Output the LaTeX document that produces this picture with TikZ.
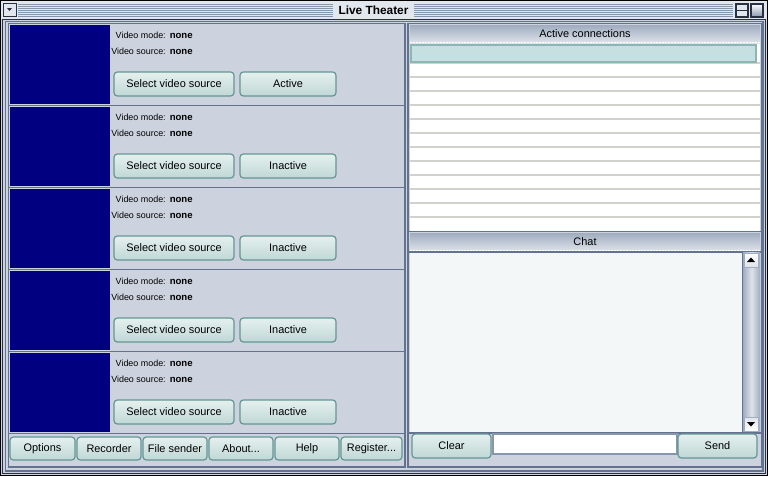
\documentclass[tikz,border=0pt]{standalone}
\usepackage{fontspec}
\setmainfont{Liberation Sans}
\definecolor{winbg}{RGB}{205,211,222}
\definecolor{frame}{RGB}{98,114,143}
\definecolor{framedk}{RGB}{40,48,66}
\definecolor{navyb}{RGB}{0,0,128}
\definecolor{btnb}{RGB}{100,150,148}
\definecolor{btnt}{RGB}{228,240,238}
\definecolor{btnbot}{RGB}{192,216,214}
\definecolor{listln}{RGB}{210,209,204}
\definecolor{hilite}{RGB}{198,223,224}
\definecolor{hiliteb}{RGB}{140,182,182}
\definecolor{chatbg}{RGB}{244,247,247}
\definecolor{stripe}{RGB}{134,150,173}
\definecolor{titlebg}{RGB}{226,230,237}
\definecolor{hdtop}{RGB}{160,173,192}
\definecolor{hdbot}{RGB}{222,227,234}
\tikzset{
  btn/.style={draw=btnb, line width=0.9pt, rounded corners=2.5pt, top color=btnt, bottom color=btnbot, inner sep=0pt, font=\fontsize{8.2}{10}\selectfont},
  lbl/.style={inner sep=0pt, font=\fontsize{6.7}{8}\selectfont},
  val/.style={inner sep=0pt, font=\fontsize{7.2}{8}\selectfont\bfseries},
  hdr/.style={inner sep=0pt, top color=hdtop, bottom color=hdbot, font=\fontsize{8.2}{10}\selectfont},
  sep/.style={draw=frame, line width=1.1pt}
}
\newcommand{\uibox}[7]{\node[#2, minimum width={(#5-#3)*0.75pt}, minimum height={(#6-#4)*0.75pt}] (#1) at ({(#3+#5)/2},{(#4+#6)/2}) {#7};}
\begin{document}
\begin{tikzpicture}[x=0.75pt,y=-0.75pt]
\useasboundingbox (0,0) rectangle (768,476);
\fill[winbg] (0,0) rectangle (768,476);
% title bar
\fill[titlebg] (1,1) rectangle (767,19);
\foreach \yy in {4,6,8,10,12,14,16}{
  \draw[stripe, line width=0.75pt] (18,\yy) -- (333,\yy);
  \draw[stripe, line width=0.75pt] (414,\yy) -- (733,\yy);
}
\uibox{title}{draw=none, fill=titlebg, inner sep=0pt, font=\fontsize{8.9}{10}\selectfont\bfseries}{335}{2}{412}{18}{Live Theater}
% title icons
\uibox{menuic}{draw=framedk, line width=0.75pt, fill=titlebg, inner sep=0pt}{3}{3}{16}{16}{}
\fill[framedk] (7,8) -- (12,8) -- (9.5,11) -- cycle;
\uibox{minic}{draw=framedk, line width=0.9pt, fill=titlebg, inner sep=0pt}{736}{4}{748}{17}{}
\draw[framedk, line width=0.75pt] (minic.west) -- (minic.east);
\uibox{maxic}{draw=framedk, line width=0.9pt, top color=white, bottom color=stripe, inner sep=0pt}{751}{4}{763}{17}{}
% frames
\draw[black, line width=0.75pt] (0.5,0.5) rectangle (767.5,475.5);
\draw[framedk, line width=1.2pt] (2.5,19.5) rectangle (765.5,473.5);
\draw[frame, line width=0.9pt] (5.5,21.5) rectangle (763,471);
% left panel
\draw[sep] (8.5,23.5) rectangle (405,467);
\foreach \k in {0,...,4}{
  \pgfmathsetmacro{\yt}{25+82*\k}
  \pgfmathsetmacro{\yb}{104+82*\k}
  \fill[navyb] (10,\yt) rectangle (110,\yb);
  \draw[sep] (8.5,\yb+1.5) -- (405,\yb+1.5);
}
% row texts and buttons
\foreach \k/\st in {0/Active,1/Inactive,2/Inactive,3/Inactive,4/Inactive}{
  \pgfmathsetmacro{\ya}{35.5+82*\k}
  \pgfmathsetmacro{\yv}{51.5+82*\k}
  \pgfmathsetmacro{\ybt}{72+82*\k}
  \pgfmathsetmacro{\ybb}{96+82*\k}
  \node[lbl, anchor=east] (vm\k) at (166,\ya) {Video mode:};
  \node[val, anchor=west] (vmv\k) at (169.5,\ya+0.5) {none};
  \node[lbl, anchor=east] (vs\k) at (166,\yv) {Video source:};
  \node[val, anchor=west] (vsv\k) at (169.5,\yv+0.5) {none};
  \uibox{sel\k}{btn}{114}{\ybt}{234}{\ybb}{Select video source}
  \uibox{st\k}{btn}{240}{\ybt}{336}{\ybb}{\st}
}
% bottom buttons
\uibox{bopt}{btn}{10}{437}{75}{460}{Options}
\uibox{brec}{btn}{77}{437}{141}{460}{Recorder}
\uibox{bfil}{btn}{143}{437}{207}{460}{File sender}
\uibox{babo}{btn}{209}{437}{273}{460}{About...}
\uibox{bhlp}{btn}{275}{437}{339}{460}{Help}
\uibox{breg}{btn}{341}{437}{402}{460}{Register...}
% right panel
\draw[sep] (408,23.5) rectangle (761.5,467);
\uibox{achdr}{hdr}{410}{25}{760}{43}{Active connections}
\draw[white, line width=0.75pt, dash pattern=on 1.5pt off 0.75pt] (410,42.5) -- (760,42.5);
\fill[white] (410,44) rectangle (760,231);
\foreach \k in {0,...,11}{
  \draw[listln, line width=0.9pt] (410,63+14*\k) -- (760,63+14*\k);
}
\uibox{hrow}{draw=hiliteb, line width=0.9pt, fill=hilite, inner sep=0pt}{411}{45}{756}{62}{}
\draw[sep] (408,231.5) -- (761.5,231.5);
\uibox{chhdr}{hdr}{410}{233}{760}{251}{Chat}
\draw[white, line width=0.75pt, dash pattern=on 1.5pt off 0.75pt] (410,250.5) -- (760,250.5);
\draw[sep] (408,251.8) -- (761.5,251.8);
\fill[chatbg] (410,252.5) rectangle (742,432);
\draw[frame, line width=0.75pt] (742.5,252.5) -- (742.5,432);
\shade[left color=hdtop, right color=hdtop, middle color=hdbot] (743,252.5) rectangle (760,432);
\uibox{upar}{draw=hdtop, line width=0.6pt, top color=white, bottom color=hdbot, inner sep=0pt}{744}{253}{758}{267}{}
\fill[black] (747,262) -- (755,262) -- (751,257.5) -- cycle;
\uibox{dnar}{draw=hdtop, line width=0.6pt, top color=hdbot, bottom color=white, inner sep=0pt}{744}{417}{758}{431}{}
\fill[black] (747,422) -- (755,422) -- (751,426.5) -- cycle;
\draw[sep] (408,432.8) -- (761.5,432.8);
\uibox{bclr}{btn}{412}{434}{491}{458}{Clear}
\uibox{field}{draw=stripe, line width=0.9pt, fill=white, inner sep=0pt}{493}{434}{677}{454}{}
\uibox{bsnd}{btn}{678}{434}{757}{458}{Send}
\end{tikzpicture}
\end{document}
